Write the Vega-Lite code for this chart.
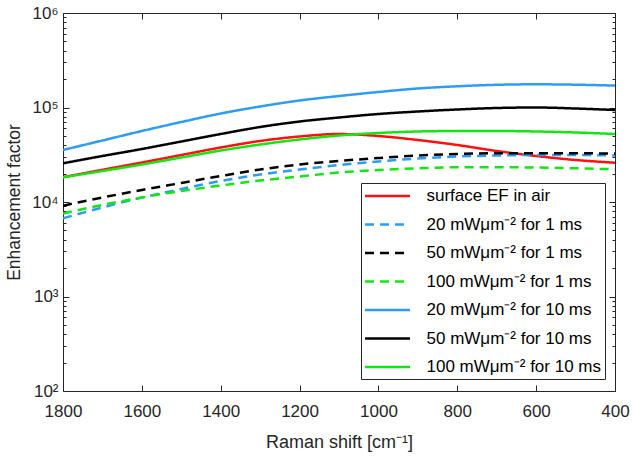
{
  "$schema": "https://vega.github.io/schema/vega-lite/v6.json",
  "width": 552,
  "height": 378,
  "autosize": {"type": "none"},
  "padding": {"left": 63, "top": 13, "right": 18, "bottom": 66},
  "background": "white",
  "config": {
    "view": {"stroke": null},
    "font": "Liberation Sans",
    "axis": {"grid": false, "domainColor": "#262626", "domainWidth": 1, "tickColor": "#262626", "labelColor": "#262626", "titleColor": "#262626", "labelFont": "Liberation Sans", "titleFont": "Liberation Sans", "titleFontWeight": "normal", "labelFlush": false}
  },
  "datasets": {
    "curves": [
      {"w": 1800, "series": "surface EF in air", "ef": 18300},
      {"w": 1700, "series": "surface EF in air", "ef": 21920},
      {"w": 1600, "series": "surface EF in air", "ef": 26180},
      {"w": 1500, "series": "surface EF in air", "ef": 31430},
      {"w": 1400, "series": "surface EF in air", "ef": 37730},
      {"w": 1300, "series": "surface EF in air", "ef": 44210},
      {"w": 1200, "series": "surface EF in air", "ef": 49340},
      {"w": 1100, "series": "surface EF in air", "ef": 52430},
      {"w": 1000, "series": "surface EF in air", "ef": 49940},
      {"w": 900, "series": "surface EF in air", "ef": 45300},
      {"w": 800, "series": "surface EF in air", "ef": 40100},
      {"w": 700, "series": "surface EF in air", "ef": 34650},
      {"w": 600, "series": "surface EF in air", "ef": 30670},
      {"w": 500, "series": "surface EF in air", "ef": 27830},
      {"w": 400, "series": "surface EF in air", "ef": 26050},

      {"w": 1800, "series": "20 mWμm⁻² for 1 ms", "ef": 6722},
      {"w": 1700, "series": "20 mWμm⁻² for 1 ms", "ef": 8746},
      {"w": 1600, "series": "20 mWμm⁻² for 1 ms", "ef": 11160},
      {"w": 1500, "series": "20 mWμm⁻² for 1 ms", "ef": 13730},
      {"w": 1400, "series": "20 mWμm⁻² for 1 ms", "ef": 16680},
      {"w": 1300, "series": "20 mWμm⁻² for 1 ms", "ef": 19540},
      {"w": 1200, "series": "20 mWμm⁻² for 1 ms", "ef": 22080},
      {"w": 1100, "series": "20 mWμm⁻² for 1 ms", "ef": 24630},
      {"w": 1000, "series": "20 mWμm⁻² for 1 ms", "ef": 26830},
      {"w": 900, "series": "20 mWμm⁻² for 1 ms", "ef": 28860},
      {"w": 800, "series": "20 mWμm⁻² for 1 ms", "ef": 30300},
      {"w": 700, "series": "20 mWμm⁻² for 1 ms", "ef": 31050},
      {"w": 600, "series": "20 mWμm⁻² for 1 ms", "ef": 31430},
      {"w": 500, "series": "20 mWμm⁻² for 1 ms", "ef": 31430},
      {"w": 400, "series": "20 mWμm⁻² for 1 ms", "ef": 31050},

      {"w": 1800, "series": "50 mWμm⁻² for 1 ms", "ef": 9139},
      {"w": 1700, "series": "50 mWμm⁻² for 1 ms", "ef": 11160},
      {"w": 1600, "series": "50 mWμm⁻² for 1 ms", "ef": 13400},
      {"w": 1500, "series": "50 mWμm⁻² for 1 ms", "ef": 15890},
      {"w": 1400, "series": "50 mWμm⁻² for 1 ms", "ef": 18850},
      {"w": 1300, "series": "50 mWμm⁻² for 1 ms", "ef": 22080},
      {"w": 1200, "series": "50 mWμm⁻² for 1 ms", "ef": 24940},
      {"w": 1100, "series": "50 mWμm⁻² for 1 ms", "ef": 27160},
      {"w": 1000, "series": "50 mWμm⁻² for 1 ms", "ef": 29210},
      {"w": 900, "series": "50 mWμm⁻² for 1 ms", "ef": 31050},
      {"w": 800, "series": "50 mWμm⁻² for 1 ms", "ef": 32200},
      {"w": 700, "series": "50 mWμm⁻² for 1 ms", "ef": 32760},
      {"w": 600, "series": "50 mWμm⁻² for 1 ms", "ef": 32760},
      {"w": 500, "series": "50 mWμm⁻² for 1 ms", "ef": 32760},
      {"w": 400, "series": "50 mWμm⁻² for 1 ms", "ef": 32600},

      {"w": 1800, "series": "100 mWμm⁻² for 1 ms", "ef": 7555},
      {"w": 1700, "series": "100 mWμm⁻² for 1 ms", "ef": 9296},
      {"w": 1600, "series": "100 mWμm⁻² for 1 ms", "ef": 11160},
      {"w": 1500, "series": "100 mWμm⁻² for 1 ms", "ef": 13080},
      {"w": 1400, "series": "100 mWμm⁻² for 1 ms", "ef": 14950},
      {"w": 1300, "series": "100 mWμm⁻² for 1 ms", "ef": 16890},
      {"w": 1200, "series": "100 mWμm⁻² for 1 ms", "ef": 18620},
      {"w": 1100, "series": "100 mWμm⁻² for 1 ms", "ef": 20520},
      {"w": 1000, "series": "100 mWμm⁻² for 1 ms", "ef": 21810},
      {"w": 900, "series": "100 mWμm⁻² for 1 ms", "ef": 22740},
      {"w": 800, "series": "100 mWμm⁻² for 1 ms", "ef": 23300},
      {"w": 700, "series": "100 mWμm⁻² for 1 ms", "ef": 23300},
      {"w": 600, "series": "100 mWμm⁻² for 1 ms", "ef": 23190},
      {"w": 500, "series": "100 mWμm⁻² for 1 ms", "ef": 22740},
      {"w": 400, "series": "100 mWμm⁻² for 1 ms", "ef": 22190},

      {"w": 1800, "series": "20 mWμm⁻² for 10 ms", "ef": 35510},
      {"w": 1700, "series": "20 mWμm⁻² for 10 ms", "ef": 44750},
      {"w": 1600, "series": "20 mWμm⁻² for 10 ms", "ef": 56420},
      {"w": 1500, "series": "20 mWμm⁻² for 10 ms", "ef": 70220},
      {"w": 1400, "series": "20 mWμm⁻² for 10 ms", "ef": 86400},
      {"w": 1300, "series": "20 mWμm⁻² for 10 ms", "ef": 102470},
      {"w": 1200, "series": "20 mWμm⁻² for 10 ms", "ef": 118600},
      {"w": 1100, "series": "20 mWμm⁻² for 10 ms", "ef": 132300},
      {"w": 1000, "series": "20 mWμm⁻² for 10 ms", "ef": 145900},
      {"w": 900, "series": "20 mWμm⁻² for 10 ms", "ef": 158900},
      {"w": 800, "series": "20 mWμm⁻² for 10 ms", "ef": 167700},
      {"w": 700, "series": "20 mWμm⁻² for 10 ms", "ef": 173900},
      {"w": 600, "series": "20 mWμm⁻² for 10 ms", "ef": 176000},
      {"w": 500, "series": "20 mWμm⁻² for 10 ms", "ef": 174300},
      {"w": 400, "series": "20 mWμm⁻² for 10 ms", "ef": 170500},

      {"w": 1800, "series": "50 mWμm⁻² for 10 ms", "ef": 25670},
      {"w": 1700, "series": "50 mWμm⁻² for 10 ms", "ef": 30670},
      {"w": 1600, "series": "50 mWμm⁻² for 10 ms", "ef": 36380},
      {"w": 1500, "series": "50 mWμm⁻² for 10 ms", "ef": 43670},
      {"w": 1400, "series": "50 mWμm⁻² for 10 ms", "ef": 52430},
      {"w": 1300, "series": "50 mWμm⁻² for 10 ms", "ef": 62180},
      {"w": 1200, "series": "50 mWμm⁻² for 10 ms", "ef": 71080},
      {"w": 1100, "series": "50 mWμm⁻² for 10 ms", "ef": 78360},
      {"w": 1000, "series": "50 mWμm⁻² for 10 ms", "ef": 85350},
      {"w": 900, "series": "50 mWμm⁻² for 10 ms", "ef": 90720},
      {"w": 800, "series": "50 mWμm⁻² for 10 ms", "ef": 95250},
      {"w": 700, "series": "50 mWμm⁻² for 10 ms", "ef": 98790},
      {"w": 600, "series": "50 mWμm⁻² for 10 ms", "ef": 100000},
      {"w": 500, "series": "50 mWμm⁻² for 10 ms", "ef": 97590},
      {"w": 400, "series": "50 mWμm⁻² for 10 ms", "ef": 94090},

      {"w": 1800, "series": "100 mWμm⁻² for 10 ms", "ef": 18250},
      {"w": 1700, "series": "100 mWμm⁻² for 10 ms", "ef": 21290},
      {"w": 1600, "series": "100 mWμm⁻² for 10 ms", "ef": 24940},
      {"w": 1500, "series": "100 mWμm⁻² for 10 ms", "ef": 29570},
      {"w": 1400, "series": "100 mWμm⁻² for 10 ms", "ef": 35070},
      {"w": 1300, "series": "100 mWμm⁻² for 10 ms", "ef": 40590},
      {"w": 1200, "series": "100 mWμm⁻² for 10 ms", "ef": 45850},
      {"w": 1100, "series": "100 mWμm⁻² for 10 ms", "ef": 50540},
      {"w": 1000, "series": "100 mWμm⁻² for 10 ms", "ef": 53730},
      {"w": 900, "series": "100 mWμm⁻² for 10 ms", "ef": 55740},
      {"w": 800, "series": "100 mWμm⁻² for 10 ms", "ef": 56420},
      {"w": 700, "series": "100 mWμm⁻² for 10 ms", "ef": 56420},
      {"w": 600, "series": "100 mWμm⁻² for 10 ms", "ef": 55740},
      {"w": 500, "series": "100 mWμm⁻² for 10 ms", "ef": 54390},
      {"w": 400, "series": "100 mWμm⁻² for 10 ms", "ef": 52430}
    ]
  },
  "data": {"name": "curves"},
  "layer": [
    {
      "mark": {"type": "line", "strokeWidth": 2.5, "clip": true, "interpolate": "monotone"},
      "encoding": {
        "x": {
          "field": "w", "type": "quantitative",
          "scale": {"domain": [400, 1800], "reverse": true, "nice": false, "zero": false},
          "axis": {
            "orient": "bottom",
            "values": [400, 600, 800, 1000, 1200, 1400, 1600, 1800],
            "format": "d",
            "tickSize": -6,
            "labelPadding": 18,
            "labelFontSize": 17,
            "title": "Raman shift [cm⁻¹]",
            "titleFontSize": 18,
            "titlePadding": 14
          }
        },
        "y": {
          "field": "ef", "type": "quantitative",
          "scale": {"type": "log", "domain": [100, 1000000], "nice": false},
          "axis": {
            "orient": "left",
            "values": [100, 200, 300, 400, 500, 600, 700, 800, 900, 1000, 2000, 3000, 4000, 5000, 6000, 7000, 8000, 9000, 10000, 20000, 30000, 40000, 50000, 60000, 70000, 80000, 90000, 100000, 200000, 300000, 400000, 500000, 600000, 700000, 800000, 900000, 1000000],
            "labelExpr": "datum.value == 100 ? '10²' : datum.value == 1000 ? '10³' : datum.value == 10000 ? '10⁴' : datum.value == 100000 ? '10⁵' : datum.value == 1000000 ? '10⁶' : ''",
            "tickSize": {"condition": {"test": "indexof([100, 1000, 10000, 100000, 1000000], datum.value) >= 0", "value": -6}, "value": -3},
            "labelPadding": 11,
            "labelFontSize": 17,
            "labelOverlap": false,
            "title": "Enhancement factor",
            "titleFontSize": 17.5,
            "titlePadding": 8
          }
        },
        "color": {
          "field": "series", "type": "nominal",
          "scale": {
            "domain": ["surface EF in air", "20 mWμm⁻² for 1 ms", "50 mWμm⁻² for 1 ms", "100 mWμm⁻² for 1 ms", "20 mWμm⁻² for 10 ms", "50 mWμm⁻² for 10 ms", "100 mWμm⁻² for 10 ms"],
            "range": ["#FF1010", "#2E9CF4", "#000000", "#14E614", "#2E9CF4", "#000000", "#14E614"]
          },
          "legend": {
            "orient": "none", "legendX": 298, "legendY": 170,
            "title": null,
            "fillColor": "white", "strokeColor": "#262626",
            "padding": 4,
            "symbolType": "M-3,0H3",
            "symbolSize": 225,
            "symbolStrokeWidth": 2.5,
            "symbolOffset": 13.5,
            "labelOffset": 30,
            "labelFontSize": 17,
            "labelFont": "Liberation Sans",
            "labelColor": "#000000",
            "labelLimit": 300,
            "rowPadding": 11.5
          }
        },
        "strokeDash": {
          "field": "series", "type": "nominal",
          "scale": {
            "domain": ["surface EF in air", "20 mWμm⁻² for 1 ms", "50 mWμm⁻² for 1 ms", "100 mWμm⁻² for 1 ms", "20 mWμm⁻² for 10 ms", "50 mWμm⁻² for 10 ms", "100 mWμm⁻² for 10 ms"],
            "range": [[1, 0], [9, 6], [9, 6], [9, 6], [1, 0], [1, 0], [1, 0]]
          },
          "legend": {
            "orient": "none", "legendX": 298, "legendY": 170,
            "title": null,
            "fillColor": "white", "strokeColor": "#262626",
            "padding": 4,
            "symbolType": "M-3,0H3",
            "symbolSize": 225,
            "symbolStrokeWidth": 2.5,
            "symbolOffset": 13.5,
            "labelOffset": 30,
            "labelFontSize": 17,
            "labelFont": "Liberation Sans",
            "labelColor": "#000000",
            "labelLimit": 300,
            "rowPadding": 11.5
          }
        }
      }
    },
    {
      "mark": {"type": "line", "opacity": 0},
      "encoding": {
        "x": {
          "field": "w", "type": "quantitative",
          "scale": {"domain": [400, 1800], "reverse": true, "nice": false, "zero": false},
          "axis": {"orient": "top", "values": [400, 600, 800, 1000, 1200, 1400, 1600, 1800], "tickSize": -6, "labels": false, "title": null}
        },
        "y": {
          "field": "ef", "type": "quantitative",
          "scale": {"type": "log", "domain": [100, 1000000], "nice": false},
          "axis": {
            "orient": "right",
            "values": [100, 200, 300, 400, 500, 600, 700, 800, 900, 1000, 2000, 3000, 4000, 5000, 6000, 7000, 8000, 9000, 10000, 20000, 30000, 40000, 50000, 60000, 70000, 80000, 90000, 100000, 200000, 300000, 400000, 500000, 600000, 700000, 800000, 900000, 1000000],
            "tickSize": {"condition": {"test": "indexof([100, 1000, 10000, 100000, 1000000], datum.value) >= 0", "value": -6}, "value": -3},
            "labels": false, "title": null
          }
        },
        "detail": {"field": "series"}
      }
    }
  ],
  "resolve": {"axis": {"x": "independent", "y": "independent"}}
}
